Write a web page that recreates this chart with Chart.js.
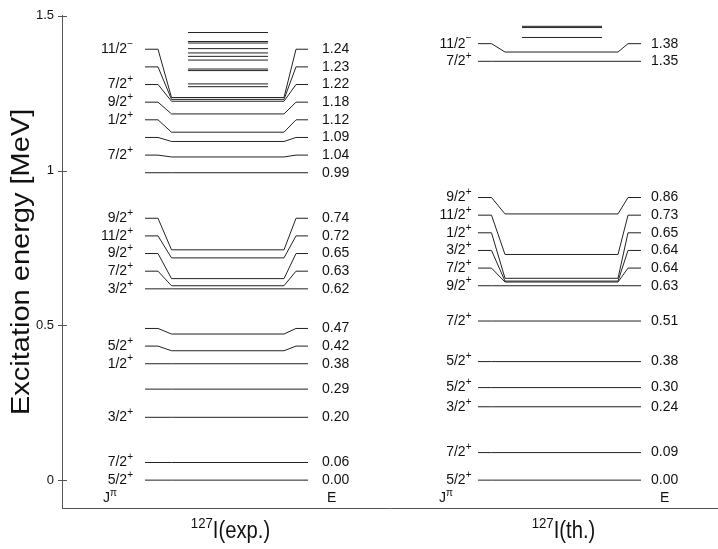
<!DOCTYPE html>
<html>
<head>
<meta charset="utf-8">
<script src="https://cdn.jsdelivr.net/npm/chart.js@4.4.1/dist/chart.umd.min.js"></script>
<style>
  body { margin: 0; background: #fff; }
</style>
</head>
<body>
<canvas id="levelChart" width="718" height="549"></canvas>
<script>
// Experimental levels of 127I, energies in MeV (lowest first)
var expEnergy = [0.000, 0.057, 0.203, 0.294, 0.376, 0.418, 0.472, 0.618, 0.628, 0.651,
                 0.718, 0.744, 0.993, 1.044, 1.094, 1.124, 1.183, 1.224, 1.230, 1.236];
var expSpin   = ["5/2", "7/2", "3/2", "", "1/2", "5/2", "", "3/2", "7/2", "9/2",
                 "11/2", "9/2", "", "7/2", "", "1/2", "9/2", "7/2", "", "11/2"];
var expParity = ["+", "+", "+", "", "+", "+", "", "+", "+", "+",
                 "+", "+", "", "+", "", "+", "+", "+", "", "\u2212"];
// unlabelled experimental levels above 1.25 MeV
var expUpper  = [1.271, 1.280, 1.323, 1.328, 1.357, 1.369, 1.380, 1.394, 1.412, 1.417, 1.446];

// Calculated levels
var thEnergy = [0.000, 0.089, 0.237, 0.299, 0.383, 0.514, 0.628, 0.640, 0.643, 0.652,
                0.729, 0.860, 1.353, 1.383];
var thSpin   = ["5/2", "7/2", "3/2", "5/2", "5/2", "7/2", "9/2", "7/2", "3/2", "1/2",
                "11/2", "9/2", "7/2", "11/2"];
var thParity = ["+", "+", "+", "+", "+", "+", "+", "+", "+", "+",
                "+", "+", "+", "\u2212"];
var thUpper  = [1.430, 1.462, 1.466];

var yTicks = [0, 0.5, 1, 1.5];
var yTickLabels = ["0", "0.5", "1", "1.5"];
var yTitle = "Excitation energy [MeV]";

var FONT = "'Liberation Sans', Arial, Helvetica, sans-serif";
var LABEL_GAP = 0.057;   // smallest spacing between two labels, MeV
var LINE = "#222";

// x positions of each column in scale units (pixels right of the axis)
var expLayout = { stubL: 83, kneeL: 96, flatL: 109.5, flatR: 222, kneeR: 234, stubR: 246,
                  upperL: 126, upperR: 206, spinRight: 71, eLeft: 260, jRight: 55, eHead: 265,
                  name: "(exp.)" };
var thLayout  = { stubL: 416, kneeL: 429.5, flatL: 443, flatR: 556, kneeR: 566, stubR: 579,
                  upperL: 460, upperR: 540, spinRight: 409.5, eLeft: 589, jRight: 391, eHead: 598,
                  name: "(th.)" };

/*
 * Push labels up so they never sit closer than 'gap' to the one below.
 */
function spreadLabels(energies, gap) {
    var out = [];
    var prev = -Infinity;
    for (var i = 0; i < energies.length; i++) {
        var s = Math.max(energies[i], prev + gap);
        out.push(s);
        prev = s;
    }
    return out;
}

var columns = [
    { energy: expEnergy, spin: expSpin, parity: expParity, upper: expUpper, layout: expLayout },
    { energy: thEnergy, spin: thSpin, parity: thParity, upper: thUpper, layout: thLayout }
];

var datasets = [];
columns.forEach(function(col) {
    var L = col.layout;
    col.stubs = spreadLabels(col.energy, LABEL_GAP);
    for (var i = 0; i < col.energy.length; i++) {
        var e = col.energy[i], s = col.stubs[i];
        datasets.push({
            data: [{x: L.stubL, y: s}, {x: L.kneeL, y: s}, {x: L.flatL, y: e},
                   {x: L.flatR, y: e}, {x: L.kneeR, y: s}, {x: L.stubR, y: s}]
        });
    }
    col.upper.forEach(function(e) {
        datasets.push({ data: [{x: L.upperL, y: e}, {x: L.upperR, y: e}] });
    });
});

// text with a small raised part, right aligned at xRight
function drawSup(ctx, main, sup, xRight, y, size, supSize) {
    ctx.font = size + "px " + FONT;
    var wMain = ctx.measureText(main).width;
    ctx.font = supSize + "px " + FONT;
    var wSup = ctx.measureText(sup).width;
    var x = xRight - wMain - wSup;
    ctx.textAlign = "left";
    ctx.textBaseline = "middle";
    ctx.font = size + "px " + FONT;
    ctx.fillText(main, x, y);
    ctx.font = supSize + "px " + FONT;
    ctx.fillText(sup, x + wMain, y - 5);
}

var levelLabels = {
    id: "levelLabels",
    afterDraw: function(chart) {
        var ctx = chart.ctx;
        var xs = chart.scales.x, ys = chart.scales.y;
        ctx.save();
        ctx.fillStyle = "#111";

        columns.forEach(function(col) {
            var L = col.layout;
            for (var i = 0; i < col.stubs.length; i++) {
                var y = ys.getPixelForValue(col.stubs[i]);
                if (col.spin[i])
                    drawSup(ctx, col.spin[i], col.parity[i], xs.getPixelForValue(L.spinRight), y, 14, 10);
                ctx.font = "14px " + FONT;
                ctx.textAlign = "left";
                ctx.textBaseline = "middle";
                ctx.fillText(col.energy[i].toFixed(2), xs.getPixelForValue(L.eLeft), y);
            }
            // column headers one label step under the ground state
            var yh = ys.getPixelForValue(-LABEL_GAP);
            drawSup(ctx, "J", "\u03c0", xs.getPixelForValue(L.jRight), yh, 14, 10);
            ctx.font = "14px " + FONT;
            ctx.textAlign = "left";
            ctx.fillText("E", xs.getPixelForValue(L.eHead), yh);

            // nucleus name under the axis, slightly condensed
            var cx = xs.getPixelForValue((L.stubL + L.stubR) / 2) + 4;
            ctx.font = "15px " + FONT;
            var wSup = ctx.measureText("127").width;
            ctx.font = "23px " + FONT;
            var wMain = ctx.measureText("I" + L.name).width;
            var squeeze = 0.88;
            ctx.save();
            ctx.translate(cx - (wSup + wMain) * squeeze / 2, 538);
            ctx.scale(squeeze, 1);
            ctx.textBaseline = "alphabetic";
            ctx.font = "15px " + FONT;
            ctx.fillText("127", 0, -10);
            ctx.font = "23px " + FONT;
            ctx.fillText("I" + L.name, wSup, 0);
            ctx.restore();
        });

        // tick marks across the left axis
        ctx.strokeStyle = "#555";
        ctx.lineWidth = 1;
        yTicks.forEach(function(v) {
            var y = Math.round(ys.getPixelForValue(v)) + 0.5;
            ctx.beginPath();
            ctx.moveTo(xs.left - 4, y);
            ctx.lineTo(xs.left + 5, y);
            ctx.stroke();
        });

        // axis title, stretched along its length like the original
        ctx.save();
        ctx.translate(29, (ys.top + ys.bottom) / 2);
        ctx.rotate(-Math.PI / 2);
        ctx.scale(1.16, 1);
        ctx.font = "25px " + FONT;
        ctx.textAlign = "center";
        ctx.textBaseline = "alphabetic";
        ctx.fillText(yTitle, 0, 0);
        ctx.restore();

        ctx.restore();
    }
};

Chart.defaults.font.family = FONT;
Chart.defaults.color = "#111";

new Chart(document.getElementById("levelChart").getContext("2d"), {
    type: "line",
    data: { datasets: datasets },
    options: {
        responsive: false,
        animation: false,
        events: [],
        layout: { padding: { top: 15, right: 0, bottom: 0, left: 0 } },
        elements: {
            line: { borderColor: LINE, borderWidth: 1, tension: 0, fill: false },
            point: { radius: 0 }
        },
        plugins: { legend: { display: false }, tooltip: { enabled: false } },
        scales: {
            x: {
                type: "linear",
                min: 0,
                max: 656,
                ticks: { display: false },
                grid: { display: false, drawTicks: false },
                border: { display: true, color: "#555", width: 1 },
                afterFit: function(scale) { scale.height = 41; }
            },
            y: {
                type: "linear",
                min: -0.09,
                max: 1.5,
                grid: { display: false, drawTicks: false },
                border: { display: true, color: "#555", width: 1 },
                afterBuildTicks: function(scale) {
                    scale.ticks = yTicks.map(function(v) { return { value: v }; });
                },
                ticks: {
                    padding: 8,
                    font: { size: 13 },
                    callback: function(value) {
                        return yTickLabels[yTicks.indexOf(value)];
                    }
                },
                afterFit: function(scale) { scale.width = 62; }
            }
        }
    },
    plugins: [levelLabels]
});
</script>
</body>
</html>
